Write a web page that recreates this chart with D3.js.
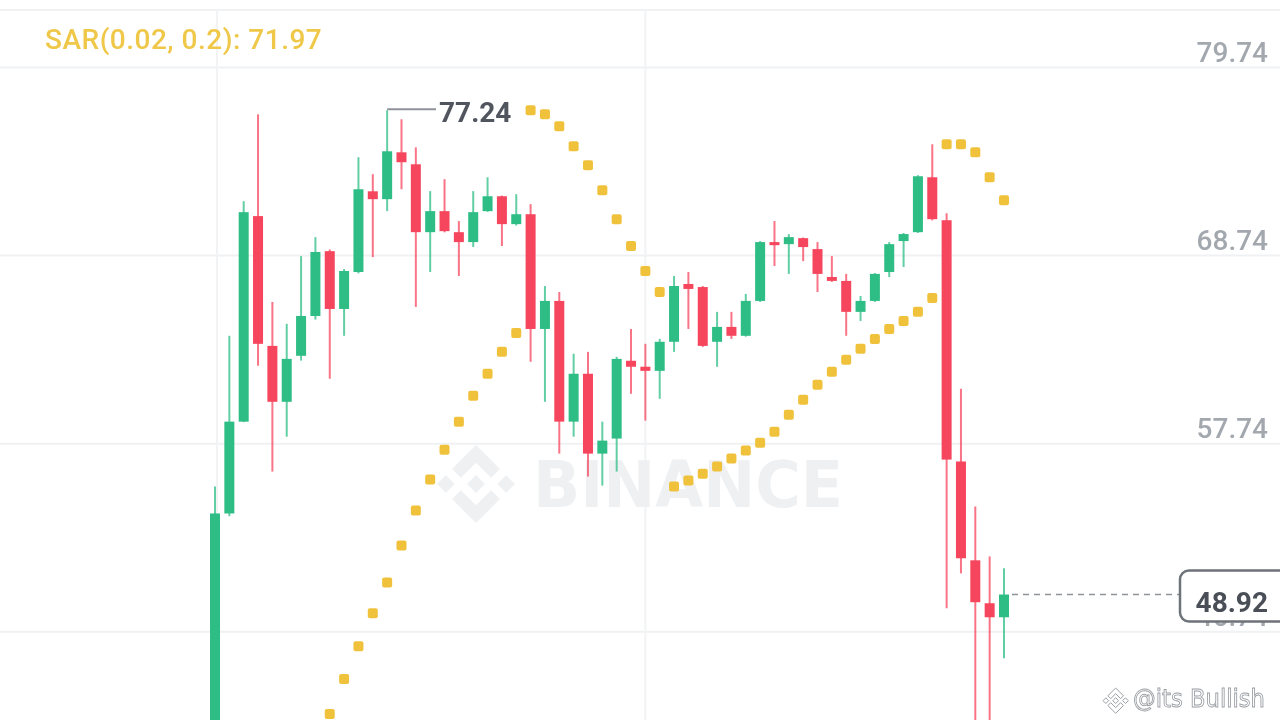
<!DOCTYPE html>
<html><head><meta charset="utf-8">
<script src="https://cdn.jsdelivr.net/npm/d3@7"></script>
<style>
html,body{margin:0;padding:0;background:#fff;overflow:hidden}
svg{display:block;filter:blur(0.7px)}
</style>
</head><body>
<svg id="chart" width="1280" height="720"></svg>
<script>
// ---- data ----
const openP  = [40.0,53.66,59.03,71.05,63.46,60.19,62.88,65.21,69.0,65.62,67.78,72.5,72.04,74.78,74.08,70.11,71.34,70.11,69.53,71.34,72.21,70.58,71.16,64.45,66.09,59.03,61.83,57.16,58.04,62.59,62.24,62.0,63.7,67.08,66.9,63.7,64.57,64.05,66.09,69.53,69.41,69.76,69.12,67.49,67.26,65.45,66.09,67.78,69.59,70.11,73.32,70.81,56.7,50.92,48.41,47.59];
const highP  = [55.24,64.05,71.92,77.0,66.03,64.75,68.71,69.82,69.1,67.95,74.49,73.5,77.24,76.71,75.07,72.51,73.21,70.76,72.51,73.32,72.25,72.33,71.75,66.96,66.61,63.0,63.11,59.03,62.82,64.45,63.58,63.87,67.55,67.78,66.96,65.45,65.45,66.5,69.59,70.76,70.0,69.8,69.53,68.71,67.67,66.38,67.72,69.53,70.06,73.44,75.25,71.22,60.95,54.07,51.15,50.45];
const lowP   = [39.5,53.5,59.0,62.3,56.11,58.15,62.6,65.0,61.54,64.05,67.7,68.65,71.34,72.62,65.74,67.78,70.1,67.55,69.24,71.3,69.3,70.5,62.53,60.19,57.16,58.15,55.82,55.29,56.11,60.66,59.09,60.37,63.11,64.45,63.4,62.24,63.87,64.0,66.03,68.13,67.67,68.42,66.61,67.2,64.05,64.92,66.03,67.49,68.07,70.06,70.8,48.12,50.16,41.0,40.8,45.2];
const closeP = [53.66,59.03,71.28,63.58,60.19,62.70,65.21,68.95,65.62,67.84,72.62,72.04,74.84,74.2,70.11,71.34,70.17,69.53,71.28,72.21,70.58,71.16,64.45,66.09,59.03,61.83,57.16,57.92,62.70,62.24,62.0,63.7,66.96,66.79,63.46,64.57,64.05,66.09,69.53,69.35,69.82,69.24,67.67,67.26,65.45,66.09,67.67,69.41,70.0,73.38,70.87,56.81,51.04,48.47,47.59,48.92];
const sarP   = [null,null,null,null,null,null,null,null,41.93,43.98,45.9,47.83,49.63,51.79,53.84,55.64,57.39,59.03,60.54,61.83,63.11,64.22,77.24,77.0,76.3,75.13,74.02,72.56,70.87,69.3,67.84,66.61,55.24,55.59,55.99,56.4,56.87,57.34,57.8,58.44,59.44,60.31,61.19,61.95,62.65,63.29,63.87,64.45,64.92,65.45,66.26,75.25,75.25,74.78,73.32,71.97];
const yTickValues = [79.74, 68.74, 57.74, 46.74];
const sarLabel = "SAR(0.02, 0.2): 71.97";
const highLabel = 77.24;
const lastPrice = 48.92;
const watermarkText = "BINANCE";
const creditText = "@its Bullish";

// ---- setup ----
const W = 1280, H = 720;
const GREEN = "#2EBD85", RED = "#F6465D", SAR_C = "#F0C23C";
const svg = d3.select("#chart");
const n = openP.length;
const idx = d3.range(n);
const x = d3.scaleLinear().domain([0, n - 1]).range([215, 1004]);
const y = d3.scaleLinear().domain([46.74, 79.74]).range([631.8, 67.5]);

// background grid
svg.append("line").attr("x1",0).attr("x2",W).attr("y1",10).attr("y2",10)
  .attr("stroke","#F0F1F3").attr("stroke-width",2);
svg.append("g").selectAll("line").data(yTickValues).join("line")
  .attr("x1",0).attr("x2",W).attr("y1",d=>y(d)).attr("y2",d=>y(d))
  .attr("stroke","#F0F1F3").attr("stroke-width",2);
svg.append("g").selectAll("line").data([0.14, 30]).join("line")
  .attr("x1",d=>x(d)).attr("x2",d=>x(d)).attr("y1",10).attr("y2",H)
  .attr("stroke","#F2F3F5").attr("stroke-width",2);

// BINANCE watermark
const logoPaths = [
 "M38.73,53.2,63.3,28.64,87.89,53.23l14.3-14.3L63.3,0,24.43,38.88Z",
 "M0,63.31l14.3-14.31,14.31,14.31-14.31,14.3Z",
 "M38.73,73.41,63.3,98l24.59-24.59,14.31,14.29,0,0L63.3,126.61,24.42,87.74l0,0Z",
 "M98,63.31l14.3-14.31,14.31,14.3-14.31,14.31Z",
 "M77.83,63.3h0L63.3,48.76,52.55,59.51h0l-1.24,1.24-2.54,2.54h0l0,0,14.53,14.52L77.83,63.31h0Z"
];
const wm = svg.append("g").attr("transform","translate(437,445) scale(0.616)");
wm.selectAll("path").data(logoPaths).join("path").attr("d",d=>d).attr("fill","#EEF0F2");
svg.append("text").attr("x",533).attr("y",507).text(watermarkText)
  .attr("font-family","DejaVu Sans, sans-serif").attr("font-weight",700)
  .attr("font-size",64).attr("fill","#EEF0F2")
  .attr("textLength",310).attr("lengthAdjust","spacingAndGlyphs");

// y axis labels
const axis = svg.append("g").attr("transform","translate(1268,0)")
  .call(d3.axisLeft(y).tickValues(yTickValues).tickSize(0).tickPadding(0).tickFormat(d3.format(".2f")));
axis.select(".domain").remove();
axis.selectAll("text").attr("dy",null).attr("y",-6)
  .attr("font-family","Roboto, sans-serif").attr("font-weight",500)
  .attr("font-size",28).attr("fill","#A3A8AF").attr("text-anchor","end");

// candles
const cg = svg.append("g");
cg.selectAll("line.wick").data(idx).join("line").attr("class","wick")
  .attr("x1",i=>x(i)).attr("x2",i=>x(i))
  .attr("y1",i=>y(highP[i])).attr("y2",i=>y(lowP[i]))
  .attr("stroke",i=>closeP[i]>=openP[i]?GREEN:RED).attr("stroke-width",2)
  .attr("stroke-opacity",0.75);
const bw = 10;
cg.selectAll("rect.body").data(idx).join("rect").attr("class","body")
  .attr("x",i=>x(i)-bw/2).attr("width",bw)
  .attr("y",i=>y(Math.max(openP[i],closeP[i])))
  .attr("height",i=>Math.max(3, Math.abs(y(openP[i])-y(closeP[i]))))
  .attr("fill",i=>closeP[i]>=openP[i]?GREEN:RED);

// SAR dots
const ds = 10;
svg.append("g").selectAll("rect").data(idx.filter(i=>sarP[i]!=null)).join("rect")
  .attr("x",i=>x(i)-ds/2).attr("y",i=>y(sarP[i])-ds/2)
  .attr("width",ds).attr("height",ds).attr("rx",2)
  .attr("fill",SAR_C);

// SAR label
svg.append("text").attr("x",45).attr("y",49).text(sarLabel)
  .attr("font-family","Roboto, sans-serif").attr("font-weight",500)
  .attr("font-size",28).attr("letter-spacing",0.5).attr("fill","#EFC84A");

// high annotation
const hiIdx = highP.indexOf(highLabel);
svg.append("line").attr("x1",x(hiIdx)).attr("x2",436)
  .attr("y1",y(highLabel)-1).attr("y2",y(highLabel)-1)
  .attr("stroke","#8E939A").attr("stroke-width",2);
svg.append("text").attr("x",439).attr("y",y(highLabel)+12).text(highLabel.toFixed(2))
  .attr("font-family","Roboto, sans-serif").attr("font-weight",700)
  .attr("font-size",28).attr("fill","#50555E");

// last price line + box
svg.append("line").attr("x1",x(n-1)+8).attr("x2",1180)
  .attr("y1",y(lastPrice)).attr("y2",y(lastPrice))
  .attr("stroke","#8E939A").attr("stroke-width",1.6).attr("stroke-dasharray","6,5");
svg.append("rect").attr("x",1180).attr("y",y(lastPrice)-24).attr("width",130).attr("height",51)
  .attr("rx",9).attr("fill","#fff").attr("stroke","#6E737A").attr("stroke-width",2.5);
svg.append("text").attr("x",1268).attr("y",y(lastPrice)+17).text(lastPrice.toFixed(2))
  .attr("text-anchor","end").attr("font-family","Roboto, sans-serif").attr("font-weight",700)
  .attr("font-size",28).attr("fill","#4A4F57");

// credit watermark
const cl = svg.append("g").attr("transform","translate(1103,688) scale(0.2)");
cl.selectAll("path").data(logoPaths).join("path").attr("d",d=>d)
  .attr("fill","#fff").attr("stroke","#9A9EA4").attr("stroke-width",5);
svg.append("text").attr("x",1133).attr("y",707).text(creditText)
  .attr("font-family","DejaVu Sans, sans-serif").attr("font-size",24)
  .attr("fill","#fff").attr("stroke","#9A9EA4").attr("stroke-width",0.9)
  .attr("textLength",132).attr("lengthAdjust","spacingAndGlyphs");
</script>
</body></html>
